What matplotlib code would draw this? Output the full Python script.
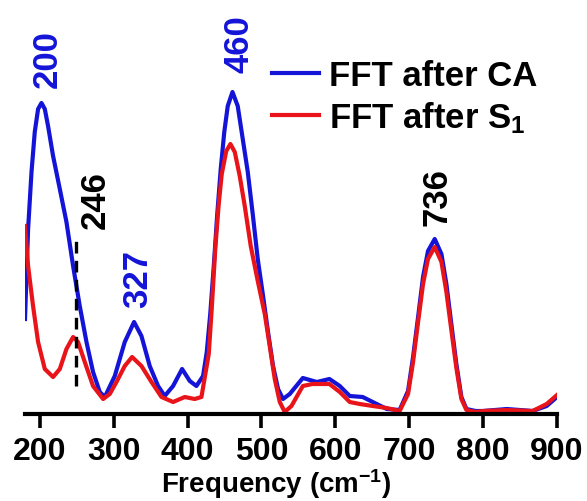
import matplotlib.pyplot as plt

plt.rcParams['font.family'] = ['Liberation Sans', 'DejaVu Sans']
plt.rcParams['font.weight'] = 'bold'
plt.rcParams['mathtext.fontset'] = 'custom'
plt.rcParams['mathtext.bf'] = 'Liberation Sans:bold'
plt.rcParams['mathtext.rm'] = 'Liberation Sans:bold'
plt.rcParams['mathtext.default'] = 'bf'

# FFT spectra (frequency in cm-1, intensity a.u.)
freq_ca = [180, 182, 184.2, 188.8, 193.2, 197.7, 202.3, 206.8, 211.2, 218, 227.1,
           236.1, 245.1, 254.1, 263.2, 272.1, 281.2, 288, 301.5, 315, 327.6,
           337.6, 348.8, 360.1, 369.1, 380.4, 392.6, 403, 412, 421, 426, 430.7,
           435.5, 440.2, 444.9, 449.7, 454.4, 460.8, 467.9, 474.7, 481.5, 488.2,
           495, 502.2, 508.9, 515.7, 522.5, 529.2, 538.3, 556, 575, 592, 606,
           619.5, 637, 650.6, 669.6, 687, 698.4, 705.2, 712, 718.7, 725.4, 734.5,
           743.6, 750.3, 757, 763.8, 770.6, 777.4, 790, 800, 832, 867, 886, 900]
int_ca = [95, 138, 185, 242, 282, 305, 311, 305, 288, 258, 225,
          192, 148, 108, 72, 42, 22, 17, 38, 72, 92,
          78, 48, 28, 18, 28, 45, 33, 28, 38, 62, 100,
          148, 200, 245, 282, 308, 322, 308, 275, 242, 200,
          155, 118, 82, 48, 25, 15, 20, 36, 32, 35, 28,
          18, 17, 12, 5, 4, 23, 57, 97, 137, 163, 175,
          160, 130, 90, 50, 17, 5, 3, 3, 5, 3, 8, 17]

freq_s1 = [180, 184.2, 190.9, 197.7, 206.8, 218, 227.1, 236.1, 245.1, 251.8,
           260.9, 272.1, 285.7, 294.7, 303.8, 315, 324.9, 337.6, 351.2, 364.7,
           380.4, 396.2, 409.7, 418.8, 428.7, 432.7, 437.5, 442.2, 446.3, 452.4,
           458, 463.9, 470.6, 477.4, 485.5, 495, 504.5, 511.2, 518, 524.8, 531.5,
           540.6, 556, 569, 592, 606, 619.5, 633, 650.6, 669.6, 687, 698.4, 705.2,
           712, 718.7, 725.4, 734.5, 743.6, 750.3, 757, 763.8, 770.6, 777.4, 790,
           800, 832, 867, 886, 900]
int_s1 = [188, 148, 108, 72, 45, 37, 45, 65, 77, 72,
          52, 28, 15, 20, 32, 48, 57, 48, 32, 17,
          12, 17, 15, 17, 60, 105, 165, 210, 240, 263,
          270, 262, 238, 208, 168, 133, 100, 68, 35, 12, 2,
          8, 28, 30, 30, 22, 12, 10, 8, 6, 3, 20, 52,
          92, 130, 155, 167, 152, 122, 84, 46, 15, 4, 2,
          3, 4, 3, 10, 19]

peak_text = ['200', '460', '246', '327', '736']
peak_x = [209.5, 470, 275, 333, 737]
peak_y = [356, 371, 215, 136, 218]
peak_color = ['#1414d8', '#1414d8', 'black', '#1414d8', 'black']

marker_f = 249
marker_lo, marker_hi = 28, 178

fig = plt.figure(figsize=(5.87, 5.02), dpi=100)
ax = fig.add_axes([25 / 587, 87 / 502, 532 / 587, 415 / 502])

ax.plot(freq_ca, int_ca, color='#1414d8', linewidth=3, label='FFT after CA')
ax.plot(freq_s1, int_s1, color='#e8141a', linewidth=3, label='FFT after S$_1$')
ax.plot([marker_f, marker_f], [marker_lo, marker_hi], color='black',
        linewidth=2.4, linestyle=(0, (3.5, 2.2)))

for t, x, y, c in zip(peak_text, peak_x, peak_y, peak_color):
    ax.text(x, y, t, rotation=90, ha='center', va='center', color=c,
            fontsize=25, fontweight='bold')

ax.set_xlim(180, 900)
ax.set_ylim(0, 415)
ax.set_xticks([200, 300, 400, 500, 600, 700, 800, 900])
ax.set_yticks([])
for s in ['left', 'right', 'top']:
    ax.spines[s].set_visible(False)
ax.spines['bottom'].set_linewidth(3)
ax.tick_params(axis='x', direction='out', length=10, width=2.6,
               labelsize=23, pad=6)

# axis title placed at the very bottom of the figure
fig.text(0.47, 0.001, 'Frequency (cm$^{-1}$)', ha='center', va='bottom',
         fontsize=20, fontweight='bold')

leg = ax.legend(loc='center left', bbox_to_anchor=(272 / 587, 1 - 98 / 502),
                bbox_transform=fig.transFigure, frameon=False, fontsize=25,
                handlelength=1.35, handletextpad=0.28, labelspacing=0.22,
                borderpad=0, borderaxespad=0)
for t in leg.get_texts():
    t.set_fontweight('bold')

plt.savefig('out.png', dpi=100)
